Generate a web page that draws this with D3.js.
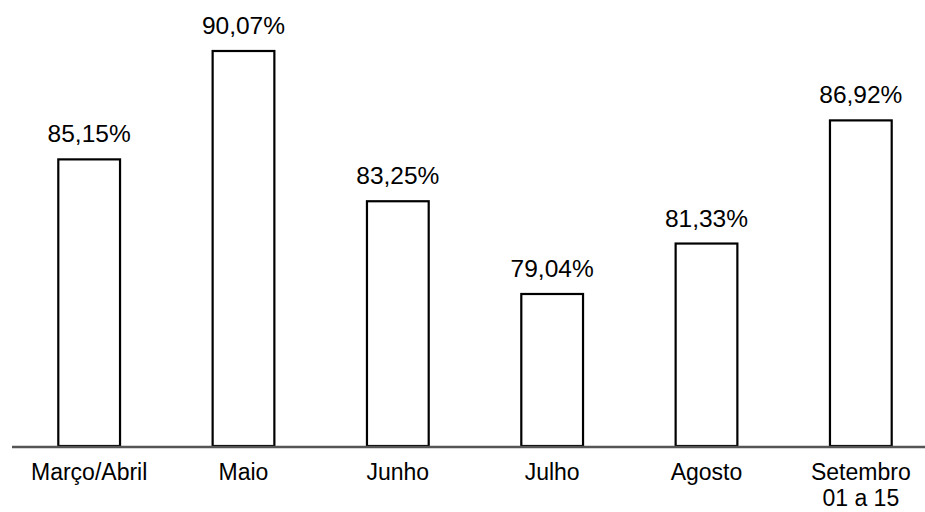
<!DOCTYPE html>
<html>
<head>
<meta charset="utf-8">
<script src="https://cdn.jsdelivr.net/npm/d3@7"></script>
<style>
	body { margin: 0; background: #fff; }
	text { font-family: "Liberation Sans", Arial, sans-serif; fill: #000; }
</style>
</head>
<body>
<div id="chart"></div>
<script>
// categories (second line of label after \n)
var categories = ["Março/Abril", "Maio", "Junho", "Julho", "Agosto", "Setembro\n01 a 15"];
var values = [85.15, 90.07, 83.25, 79.04, 81.33, 86.92];
var valueLabels = ["85,15%", "90,07%", "83,25%", "79,04%", "81,33%", "86,92%"];

var svgWidth = 925,
	svgHeight = 512,
	baseY = 446;

var svg = d3.select("#chart").append("svg")
	.attr("width", svgWidth)
	.attr("height", svgHeight);

var x = d3.scaleBand()
	.domain(categories)
	.range([12, 938])
	.paddingInner(0.6)
	.paddingOuter(0.3);

// value axis, not drawn
var y = d3.scaleLinear()
	.domain([72.14, 90.07])
	.range([baseY, 51]);

var bars = svg.selectAll("rect.bar")
	.data(values)
	.enter().append("rect")
	.attr("class", "bar")
	.attr("x", function (d, i) { return x(categories[i]); })
	.attr("y", function (d) { return y(d); })
	.attr("width", x.bandwidth())
	.attr("height", function (d) { return baseY - y(d); })
	.attr("fill", "#fff")
	.attr("stroke", "#000")
	.attr("stroke-width", 2.2);

svg.selectAll("text.val")
	.data(values)
	.enter().append("text")
	.attr("class", "val")
	.attr("x", function (d, i) { return x(categories[i]) + x.bandwidth() / 2; })
	.attr("y", function (d) { return y(d) - 17; })
	.attr("text-anchor", "middle")
	.style("font-size", "24.5px")
	.text(function (d, i) { return valueLabels[i]; });

// baseline
svg.append("line")
	.attr("x1", 12)
	.attr("x2", 925)
	.attr("y1", baseY + 1)
	.attr("y2", baseY + 1)
	.attr("stroke", "#555")
	.attr("stroke-width", 2.5);

var cat = svg.selectAll("text.cat")
	.data(categories)
	.enter().append("text")
	.attr("class", "cat")
	.attr("x", function (d) { return x(d) + x.bandwidth() / 2; })
	.attr("y", 480)
	.attr("text-anchor", "middle")
	.style("font-size", "23px");

cat.selectAll("tspan")
	.data(function (d) {
		var cx = x(d) + x.bandwidth() / 2;
		return d.split("\n").map(function (s) { return {t: s, cx: cx}; });
	})
	.enter().append("tspan")
	.attr("x", function (d) { return d.cx; })
	.attr("dy", function (d, i) { return i == 0 ? 0 : 26; })
	.text(function (d) { return d.t; });
</script>
</body>
</html>
